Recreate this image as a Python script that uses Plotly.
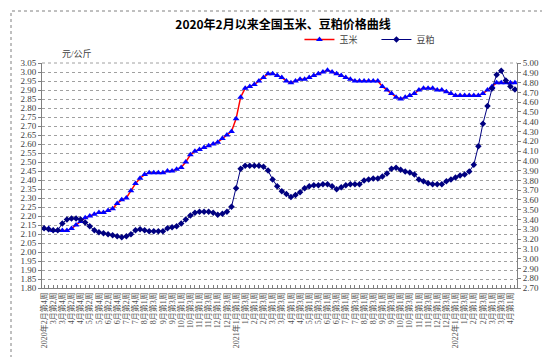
import plotly.graph_objects as go

week_labels = [
    "2020年2月第4周",
    "3月第1周", "3月第2周", "3月第3周", "3月第4周",
    "4月第1周", "4月第2周", "4月第3周", "4月第4周",
    "5月第1周", "5月第2周", "5月第3周", "5月第4周",
    "6月第1周", "6月第2周", "6月第3周", "6月第4周",
    "7月第1周", "7月第2周", "7月第3周", "7月第4周", "7月第5周",
    "8月第1周", "8月第2周", "8月第3周", "8月第4周",
    "9月第1周", "9月第2周", "9月第3周", "9月第4周",
    "10月第1周", "10月第2周", "10月第3周", "10月第4周",
    "11月第1周", "11月第2周", "11月第3周", "11月第4周",
    "12月第1周", "12月第2周", "12月第3周", "12月第4周",
    "2021年1月第1周", "1月第2周", "1月第3周", "1月第4周",
    "2月第1周", "2月第2周", "2月第3周", "2月第4周",
    "3月第1周", "3月第2周", "3月第3周", "3月第4周",
    "4月第1周", "4月第2周", "4月第3周", "4月第4周",
    "5月第1周", "5月第2周", "5月第3周", "5月第4周",
    "6月第1周", "6月第2周", "6月第3周", "6月第4周",
    "7月第1周", "7月第2周", "7月第3周", "7月第4周",
    "8月第1周", "8月第2周", "8月第3周", "8月第4周",
    "9月第1周", "9月第2周", "9月第3周", "9月第4周",
    "10月第1周", "10月第2周", "10月第3周", "10月第4周",
    "11月第1周", "11月第2周", "11月第3周", "11月第4周",
    "12月第1周", "12月第2周", "12月第3周", "12月第4周",
    "2022年1月第1周", "1月第2周", "1月第3周", "1月第4周",
    "2月第1周", "2月第2周", "2月第3周", "2月第4周",
    "3月第1周", "3月第2周", "3月第3周", "3月第4周",
    "4月第1周", "4月第2周",
]

corn = [
    2.13, 2.13, 2.12, 2.12, 2.12, 2.12, 2.13, 2.15, 2.17, 2.19,
    2.20, 2.21, 2.22, 2.22, 2.23, 2.24, 2.27, 2.29, 2.30, 2.34,
    2.38, 2.41, 2.43, 2.44, 2.44, 2.44, 2.44, 2.45, 2.45, 2.46,
    2.47, 2.50, 2.54, 2.56, 2.57, 2.58, 2.59, 2.60, 2.61, 2.63,
    2.65, 2.67, 2.74, 2.86, 2.91, 2.92, 2.93, 2.95, 2.97, 2.99,
    2.99, 2.98, 2.97, 2.95, 2.94, 2.95, 2.96, 2.96, 2.97, 2.98,
    2.99, 3.00, 3.01, 3.00, 2.99, 2.98, 2.97, 2.96, 2.95, 2.95,
    2.95, 2.95, 2.95, 2.95, 2.92, 2.90, 2.88, 2.86, 2.85, 2.86,
    2.87, 2.88, 2.90, 2.91, 2.91, 2.91, 2.90, 2.90, 2.89, 2.88,
    2.87, 2.87, 2.87, 2.87, 2.87, 2.87, 2.88, 2.90, 2.92, 2.94,
    2.94, 2.94, 2.94, 2.94,
]

soymeal = [
    3.31, 3.30, 3.29, 3.29, 3.36, 3.40, 3.41, 3.41, 3.40, 3.37,
    3.33, 3.29, 3.27, 3.26, 3.25, 3.24, 3.23, 3.22, 3.23, 3.25,
    3.29, 3.30, 3.29, 3.28, 3.28, 3.28, 3.28, 3.31, 3.32, 3.33,
    3.36, 3.40, 3.44, 3.47, 3.48, 3.48, 3.48, 3.47, 3.45, 3.46,
    3.48, 3.53, 3.72, 3.92, 3.95, 3.95, 3.95, 3.95, 3.94, 3.90,
    3.81, 3.74, 3.69, 3.66, 3.63, 3.65, 3.68, 3.72, 3.74, 3.75,
    3.75, 3.76, 3.76, 3.74, 3.71, 3.73, 3.75, 3.76, 3.76, 3.76,
    3.80, 3.81, 3.82, 3.82, 3.84, 3.87, 3.92, 3.93, 3.91, 3.89,
    3.88, 3.86, 3.81, 3.79, 3.77, 3.76, 3.76, 3.76, 3.79, 3.81,
    3.83, 3.85, 3.86, 3.89, 3.96, 4.15, 4.38, 4.56, 4.74, 4.88,
    4.92, 4.82, 4.76, 4.73,
]

title_text = "2020年2月以来全国玉米、豆粕价格曲线"
unit_text = "元/公斤"

FONT = "Liberation Serif, Noto Sans CJK SC"
GRAY = "#404040"

x_idx = list(range(len(week_labels)))
tick_pos = x_idx[::2]
tick_txt = [week_labels[i] for i in tick_pos]

fig = go.Figure()
fig.add_trace(go.Scatter(
    x=x_idx, y=corn, name="玉米", mode="lines+markers",
    line=dict(color="#FF0000", width=1.5),
    marker=dict(symbol="triangle-up", size=6, color="#0000FF"),
))
fig.add_trace(go.Scatter(
    x=x_idx, y=soymeal, name="豆粕", mode="lines+markers", yaxis="y2",
    line=dict(color="#000080", width=1),
    marker=dict(symbol="diamond", size=5, color="#000080"),
))

fig.update_layout(
    width=550, height=357,
    margin=dict(l=34, r=41, t=55, b=77),
    paper_bgcolor="white", plot_bgcolor="white",
    font=dict(family=FONT, size=9, color=GRAY),
    title=dict(text=title_text, x=0.5, xref="container", y=0.952, yanchor="middle",
               font=dict(family="Noto Sans CJK SC", size=12, color="black", weight="bold")),
    showlegend=True,
    legend=dict(orientation="h", x=0.542, xanchor="left", y=1.04, yanchor="bottom",
                font=dict(family=FONT, size=9, color=GRAY), itemwidth=30,
                entrywidth=32, bgcolor="rgba(0,0,0,0)"),
    xaxis=dict(range=[-0.45, 103.45], tickmode="array", tickvals=tick_pos, ticktext=tick_txt,
               tickangle=-90, tickfont=dict(family=FONT, size=8, color="#505050"),
               showgrid=False, zeroline=False, showline=True, linecolor="#808080", linewidth=1,
               ticks="inside", ticklen=3, tickcolor="#808080",
               minor=dict(dtick=1, tick0=0, ticks="inside", ticklen=3, tickcolor="#808080", showgrid=False)),
    yaxis=dict(range=[1.80, 3.05], dtick=0.05, tick0=1.80, tickformat=".2f",
               showgrid=True, gridcolor="#A0A0A0", griddash="dot", gridwidth=1,
               zeroline=False, showline=True, linecolor="#808080", linewidth=1,
               ticks="outside", ticklen=3, tickcolor="#808080",
               tickfont=dict(family=FONT, size=9, color=GRAY)),
    yaxis2=dict(range=[2.70, 5.00], dtick=0.10, tick0=2.70, tickformat=".2f",
                overlaying="y", side="right", showgrid=False, zeroline=False,
                showline=True, linecolor="#808080", linewidth=1,
                ticks="outside", ticklen=3, tickcolor="#808080",
                tickfont=dict(family=FONT, size=9, color=GRAY)),
)

fig.add_annotation(text=unit_text, xref="paper", yref="paper", x=(52 - 34) / 475,
                   y=(280 - 46) / 225, xanchor="left", yanchor="middle", showarrow=False,
                   font=dict(family=FONT, size=9, color=GRAY))

# plot-area top border (dotted) and outer chart border
fig.add_shape(type="line", xref="paper", yref="paper", x0=0, x1=1, y0=1, y1=1,
              line=dict(color="#A0A0A0", width=1, dash="dot"))
fig.add_shape(type="rect", xref="paper", yref="paper",
              x0=(3 - 34) / 475, x1=(545 - 34) / 475, y0=(280 - 351) / 225, y1=(280 - 3) / 225,
              line=dict(color="#808080", width=1, dash="dot"))

fig.write_html("out.html")
